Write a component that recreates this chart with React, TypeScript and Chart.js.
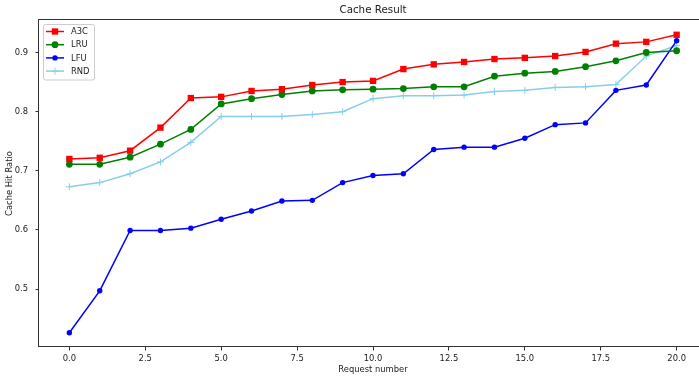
import React, { useEffect, useRef } from "react";
import { Chart, registerables } from "chart.js";

Chart.register(...registerables);

const TITLE = "Cache Result";
const X_LABEL = "Request number";
const Y_LABEL = "Cache Hit Ratio";

const REQUESTS = [0, 1, 2, 3, 4, 5, 6, 7, 8, 9, 10, 11, 12, 13, 14, 15, 16, 17, 18, 19, 20];
const A3C = [0.720, 0.722, 0.734, 0.773, 0.823, 0.825, 0.835, 0.838, 0.845, 0.850, 0.852, 0.872, 0.880, 0.884, 0.889, 0.891, 0.894, 0.901, 0.915, 0.918, 0.930];
const LRU = [0.711, 0.711, 0.723, 0.745, 0.770, 0.813, 0.822, 0.829, 0.835, 0.837, 0.838, 0.839, 0.842, 0.842, 0.860, 0.865, 0.868, 0.876, 0.886, 0.900, 0.903];
const LFU = [0.426, 0.497, 0.599, 0.599, 0.603, 0.618, 0.632, 0.649, 0.650, 0.680, 0.692, 0.695, 0.736, 0.740, 0.740, 0.755, 0.778, 0.781, 0.836, 0.845, 0.920];
const RND = [0.673, 0.680, 0.695, 0.715, 0.748, 0.792, 0.792, 0.792, 0.795, 0.800, 0.822, 0.827, 0.827, 0.828, 0.834, 0.836, 0.841, 0.842, 0.846, 0.894, 0.912];

const X_TICKS = [0, 2.5, 5, 7.5, 10, 12.5, 15, 17.5, 20];
const Y_TICKS = [0.5, 0.6, 0.7, 0.8, 0.9];

const FONT = "'DejaVu Sans', sans-serif";
const TEXT = "#222";

type Marker = "rect" | "circle" | "cross";

function drawMarker(ctx: CanvasRenderingContext2D, kind: Marker, x: number, y: number, r: number, color: string) {
  ctx.save();
  ctx.fillStyle = color;
  ctx.strokeStyle = color;
  ctx.beginPath();
  if (kind === "rect") {
    const s = Math.SQRT1_2 * r;
    ctx.rect(x - s, y - s, 2 * s, 2 * s);
    ctx.fill();
  } else if (kind === "circle") {
    ctx.arc(x, y, r, 0, Math.PI * 2);
    ctx.fill();
  } else {
    ctx.lineWidth = 1;
    ctx.moveTo(x - r, y);
    ctx.lineTo(x + r, y);
    ctx.moveTo(x, y - r);
    ctx.lineTo(x, y + r);
    ctx.stroke();
  }
  ctx.restore();
}

const framePlugin = {
  id: "frame",
  afterDatasetsDraw(chart: any) {
    const { ctx, chartArea } = chart;
    ctx.save();
    ctx.strokeStyle = "#333";
    ctx.lineWidth = 1;
    ctx.strokeRect(Math.round(chartArea.left) - 0.5, Math.round(chartArea.top) - 0.5,
      Math.round(chartArea.right - chartArea.left) + 1, Math.round(chartArea.bottom - chartArea.top));
    ctx.restore();

    // legend inside the axes, upper left
    const bx = chartArea.left + 4;
    const by = chartArea.top + 4;
    const bw = 51;
    const bh = 55.5;
    ctx.save();
    ctx.fillStyle = "rgba(255,255,255,0.8)";
    ctx.strokeStyle = "#cccccc";
    ctx.lineWidth = 1;
    ctx.beginPath();
    (ctx as any).roundRect(bx + 0.5, by + 0.5, bw, bh, 2);
    ctx.fill();
    ctx.stroke();
    ctx.font = `8.4px ${FONT}`;
    ctx.textBaseline = "middle";
    ctx.textAlign = "left";
    chart.data.datasets.forEach((ds: any, i: number) => {
      const cy = by + 7.5 + i * 13.2;
      ctx.strokeStyle = ds.borderColor;
      ctx.lineWidth = 1.5;
      ctx.beginPath();
      ctx.moveTo(bx + 3, cy);
      ctx.lineTo(bx + 21, cy);
      ctx.stroke();
      drawMarker(ctx, ds.pointStyle, bx + 12, cy, ds.pointRadius, ds.borderColor);
      ctx.fillStyle = TEXT;
      ctx.fillText(ds.label, bx + 28, cy + 0.5);
    });
    ctx.restore();
  },
};

function series(values: number[]) {
  return REQUESTS.map((x, i) => ({ x, y: values[i] }));
}

export default function App() {
  const ref = useRef<HTMLCanvasElement | null>(null);

  useEffect(() => {
    if (!ref.current) return;
    const mk = (label: string, values: number[], color: string, style: Marker, r: number) => ({
      label,
      data: series(values),
      borderColor: color,
      backgroundColor: color,
      pointBackgroundColor: color,
      pointBorderColor: color,
      pointBorderWidth: style === "cross" ? 1 : 0,
      borderWidth: 1.5,
      pointStyle: style,
      pointRadius: r,
      tension: 0,
      fill: false,
    });
    const chart = new Chart(ref.current, {
      type: "line",
      data: {
        datasets: [
          mk("A3C", A3C, "#ff0000", "rect", 4.5),
          mk("LRU", LRU, "#008000", "circle", 3.4),
          mk("LFU", LFU, "#0000ff", "circle", 2.7),
          mk("RND", RND, "#87ceeb", "cross", 3.5),
        ] as any,
      },
      options: {
        animation: false,
        responsive: false,
        devicePixelRatio: 1,
        layout: { padding: { left: 0, top: 0, right: 13, bottom: 0 } },
        plugins: {
          legend: { display: false },
          tooltip: { enabled: false },
          title: {
            display: true,
            text: TITLE,
            fullSize: false,
            color: TEXT,
            font: { family: FONT, size: 10.3, weight: "normal", lineHeight: "12px" },
            padding: { top: 4, bottom: 4 },
          } as any,
        },
        scales: {
          x: {
            type: "linear",
            min: -1,
            max: 21,
            afterBuildTicks: (scale: any) => {
              scale.ticks = X_TICKS.map((v) => ({ value: v }));
            },
            afterFit: (scale: any) => {
              scale.height = 29;
            },
            ticks: {
              color: TEXT,
              font: { family: FONT, size: 8.4 },
              padding: 3,
              maxRotation: 0,
              autoSkip: false,
              callback: (v: any) => Number(v).toFixed(1),
            },
            grid: { display: true, drawOnChartArea: false, drawTicks: true, tickLength: 3.5, color: "#333" },
            border: { display: false },
            title: {
              display: true,
              text: X_LABEL,
              color: TEXT,
              font: { family: FONT, size: 8.4 },
              padding: { top: 0, bottom: 1 },
            },
          },
          y: {
            type: "linear",
            min: 0.402,
            max: 0.955,
            afterBuildTicks: (scale: any) => {
              scale.ticks = Y_TICKS.map((v) => ({ value: v }));
            },
            afterFit: (scale: any) => {
              scale.width = 39;
            },
            ticks: {
              color: TEXT,
              font: { family: FONT, size: 8.4 },
              padding: 7.5,
              autoSkip: false,
              callback: (v: any) => Number(v).toFixed(1),
            },
            grid: { display: true, drawOnChartArea: false, drawTicks: true, tickLength: 3.5, color: "#333" },
            border: { display: false },
            title: {
              display: true,
              text: Y_LABEL,
              color: TEXT,
              font: { family: FONT, size: 8.4 },
              padding: { top: 5, bottom: 0 },
            },
          },
        },
      },
      plugins: [framePlugin],
    });
    return () => chart.destroy();
  }, []);

  return (
    <div style={{ position: "fixed", left: 0, top: 0, width: 699, height: 376, overflow: "hidden", background: "#fff" }}>
      <canvas ref={ref} width={720} height={376} style={{ width: 720, height: 376, display: "block" }} />
    </div>
  );
}
